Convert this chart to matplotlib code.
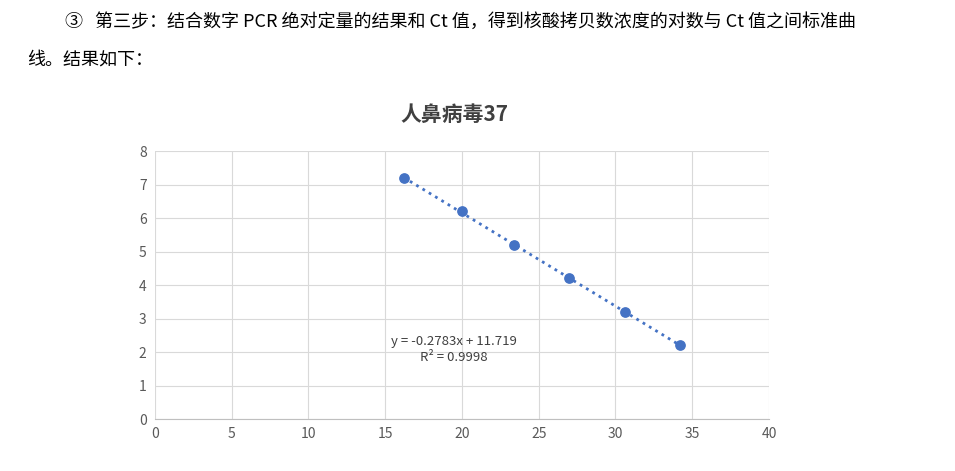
import matplotlib
matplotlib.use("Agg")
import matplotlib.pyplot as plt
import numpy as np

plt.rcParams['font.family'] = ['Noto Sans CJK SC', 'DejaVu Sans']

ct = [16.2, 20.0, 23.4, 27.0, 30.6, 34.2]
log_conc = [7.2, 6.2, 5.2, 4.2, 3.2, 2.2]
slope, intercept = -0.2783, 11.719
xticks = [0, 5, 10, 15, 20, 25, 30, 35, 40]
yticks = [0, 1, 2, 3, 4, 5, 6, 7, 8]

fig = plt.figure(figsize=(9.55, 4.71), dpi=100)
fig.text(0.068, 0.953, "③   第三步：结合数字 PCR 绝对定量的结果和 Ct 值，得到核酸拷贝数浓度的对数与 Ct 值之间标准曲",
         fontsize=13, va='center', ha='left')
fig.text(0.028, 0.873, "线。结果如下：", fontsize=13, va='center', ha='left')
fig.text(0.476, 0.758, "人鼻病毒37", fontsize=15, fontweight='bold', color='#404040', ha='center', va='center')

ax = fig.add_axes([0.1623, 0.1104, 0.6429, 0.569])
ax.set_xlim(0, 40)
ax.set_ylim(0, 8)
ax.set_xticks(xticks)
ax.set_yticks(yticks)
ax.grid(True, color='#d9d9d9', linewidth=0.8)
ax.set_axisbelow(True)
for s in ['top', 'right', 'left']:
    ax.spines[s].set_visible(False)
ax.spines['bottom'].set_color('#bfbfbf')
ax.tick_params(length=0, labelsize=10, colors='#595959', pad=6)

xs = np.array([min(ct), max(ct)])
ax.plot(xs, slope * xs + intercept, linestyle=':', color='#4472c4', linewidth=2)
ax.scatter(ct, log_conc, s=45, color='#4472c4', zorder=3)
ax.text(19.5, 2.08, "y = -0.2783x + 11.719\nR² = 0.9998", fontsize=9.5, color='#404040',
        ha='center', va='center', linespacing=1.3)

fig.savefig("out.png", dpi=100)
